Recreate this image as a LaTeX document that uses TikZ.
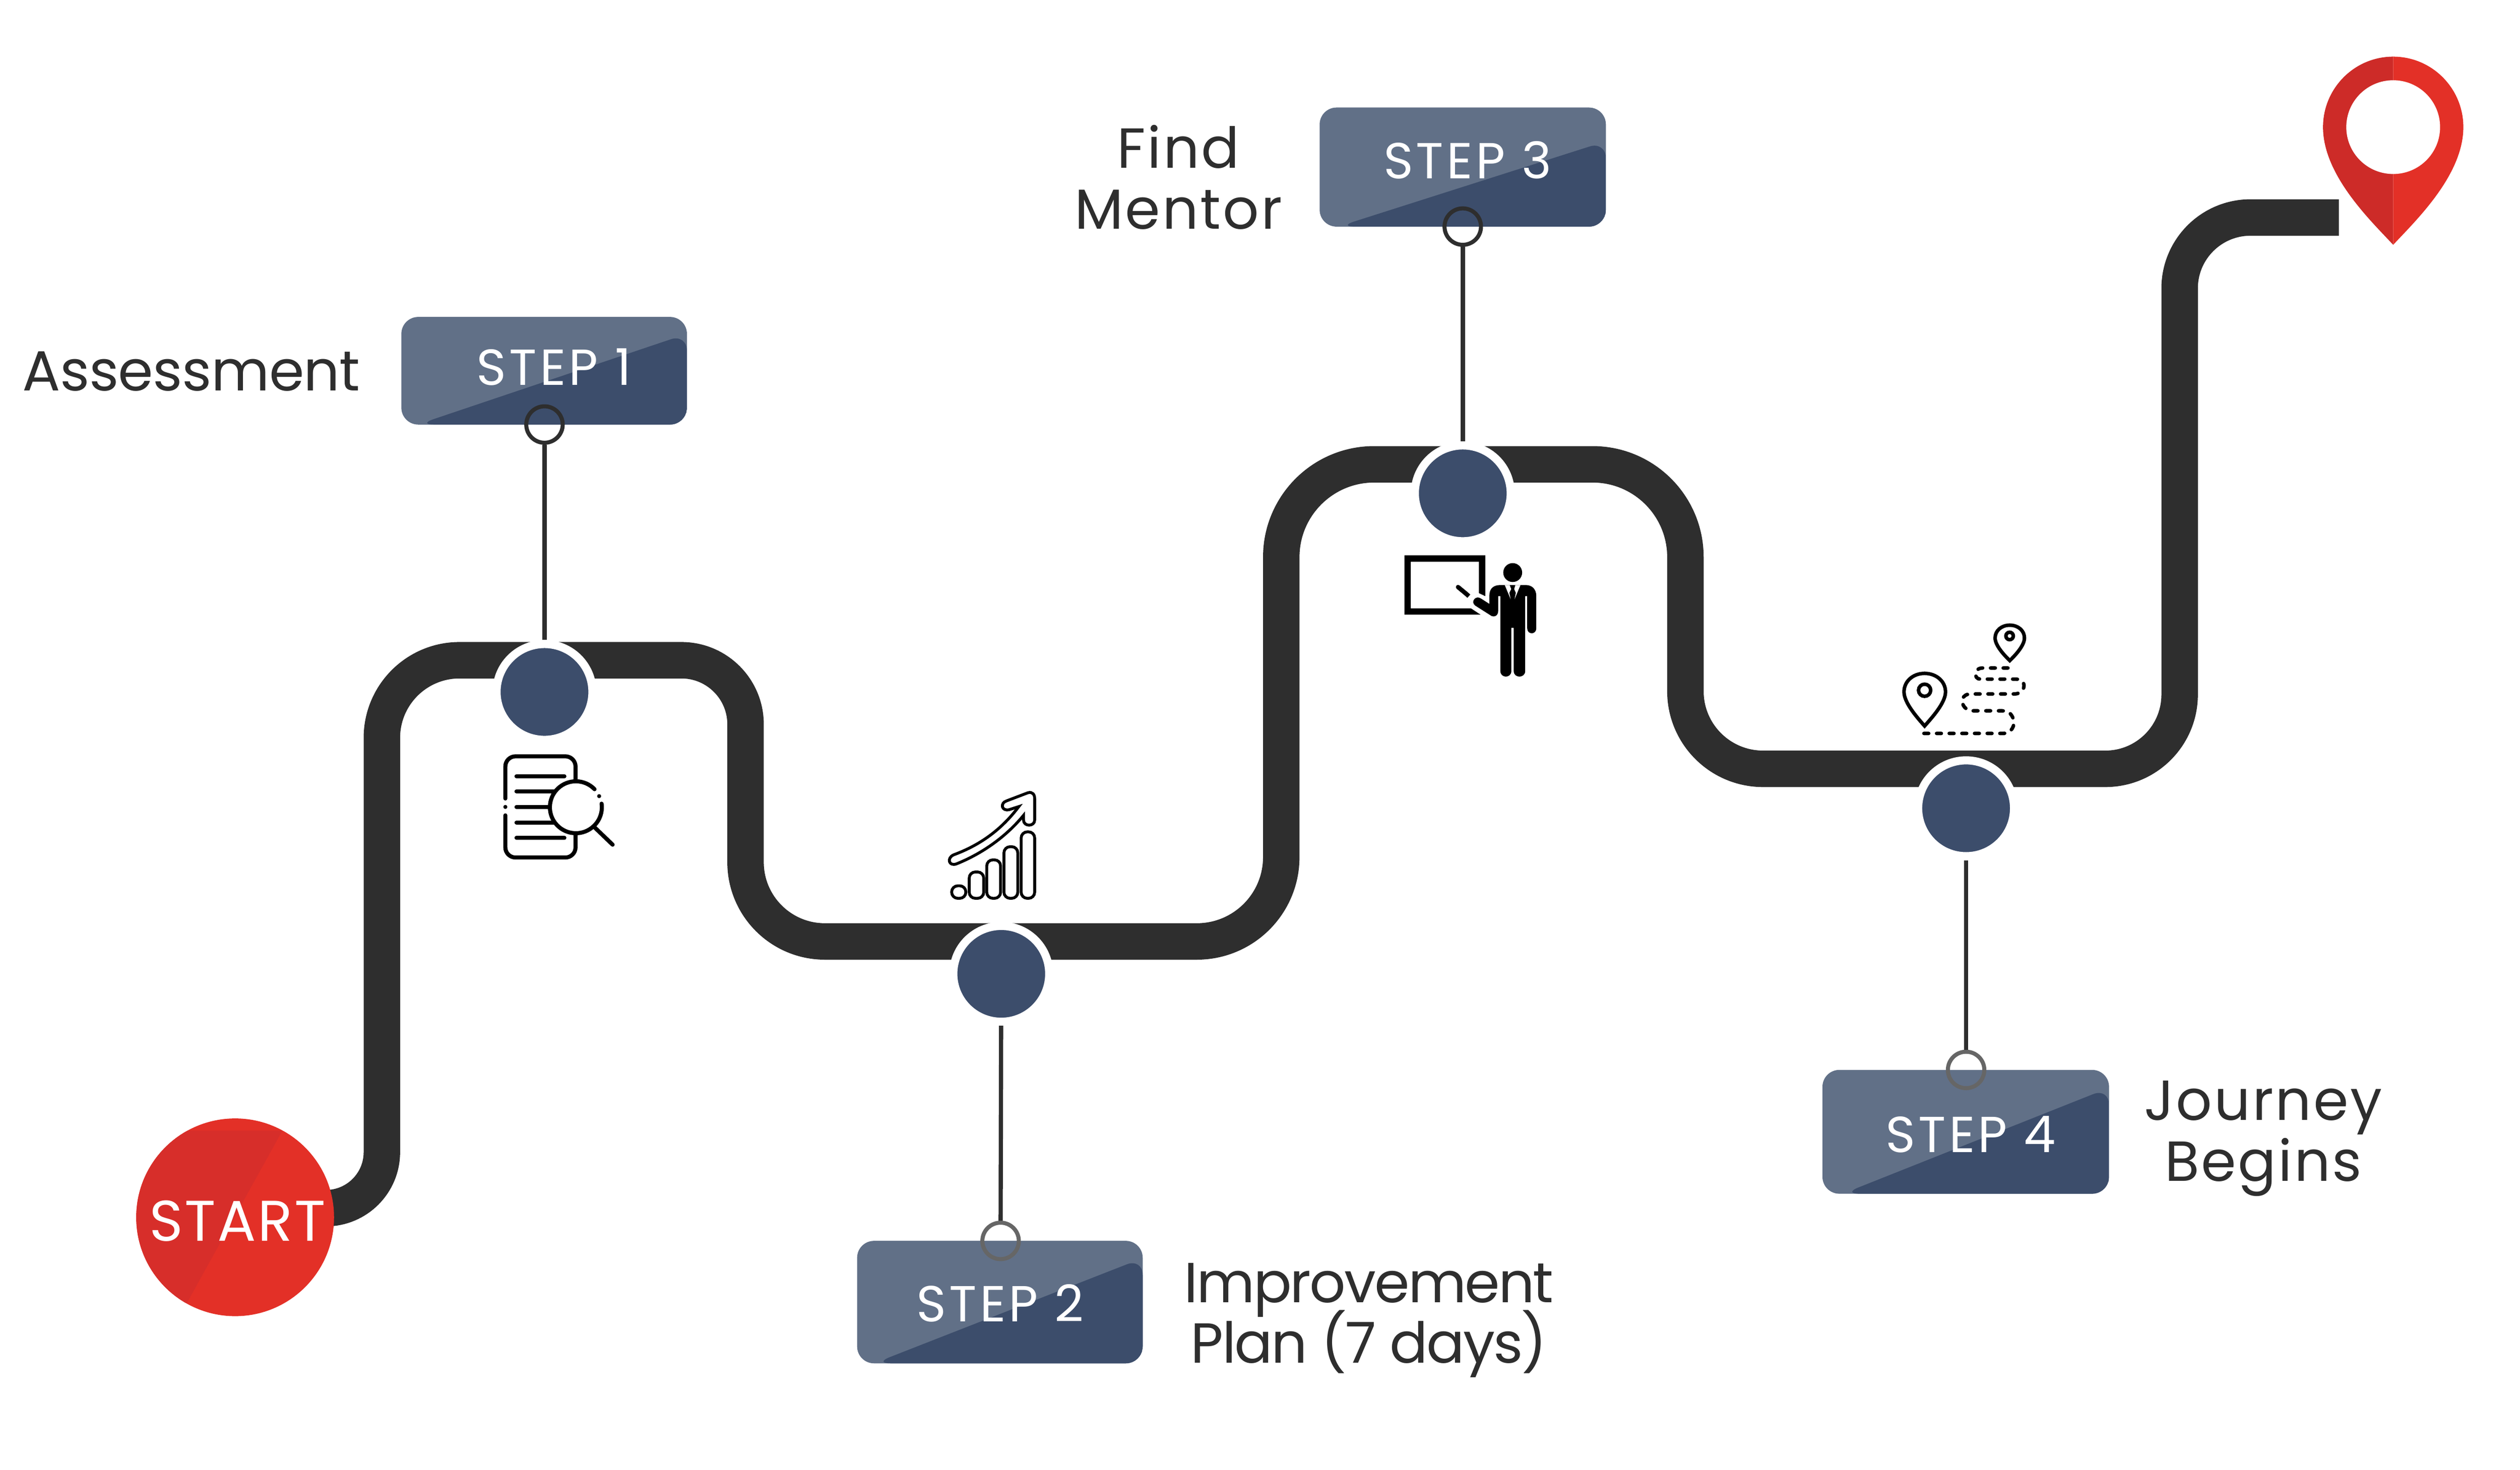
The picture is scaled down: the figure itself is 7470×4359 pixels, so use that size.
\documentclass[tikz,border=0pt]{standalone}
\usepackage{fontspec}
\setmainfont{Poppins}
\usetikzlibrary{calc}
\setlength{\lineskiplimit}{-40pt}
\definecolor{trackgray}{HTML}{2E2E2E}
\definecolor{navy}{HTML}{3C4D6B}
\definecolor{navylight}{HTML}{617087}
\definecolor{redlight}{HTML}{E33027}
\definecolor{reddark}{HTML}{CD2B28}
\definecolor{redmid}{HTML}{D72E2A}
\newfontfamily\notefontA[LetterSpace=-0.6]{Poppins}
\newfontfamily\notefontB[LetterSpace=-2.6]{Poppins}
\newfontfamily\notefontC[LetterSpace=3.5]{Poppins}
\newfontfamily\stepfont[LetterSpace=6]{Poppins}
\newfontfamily\startfont[LetterSpace=3]{Poppins}
\tikzset{
    track/.style={draw=trackgray,line width=1.08cm},
    stopdot/.style={circle,fill=navy,draw=white,line width=.24cm,minimum size=2.84cm,inner sep=0pt},
    hookring/.style={circle,draw=#1,line width=.12cm,minimum size=1.08cm,inner sep=0pt},
    stem/.style={draw=trackgray,line width=.125cm},
    stepbox/.style={rounded corners=.5cm,inner sep=0pt,outer sep=0pt,fill=navylight},
    steptext/.style={text=white,anchor=base,inner sep=0pt,font=\stepfont\fontsize{42.7}{50}\selectfont},
    notetext/.style={text=trackgray,anchor=base,inner sep=0pt,align=center,
        font=#1\fontsize{47.6}{51.2}\selectfont},
    iconline/.style={draw=black,line width=.12cm,line cap=round,line join=round},
    iconthin/.style={draw=black,line width=.085cm},
    mapline/.style={draw=black,line width=.105cm},
}
\begin{document}
\begin{tikzpicture}[x=.01cm,y=-.01cm]
    \useasboundingbox (0,0) rectangle (7470,4359);
    % road
    \draw[track,rounded corners=1.66cm] (880,3583)--(1132,3583)
        [rounded corners=2.3cm]--(1132,1958)
        [rounded corners=1.9cm]--(2210,1958)
        [rounded corners=2.35cm]--(2210,2792)
        [rounded corners=2.5cm]--(3798,2792)
        [rounded corners=2.75cm]--(3798,1377)
        [rounded corners=2.75cm]--(4996,1377)
        [rounded corners=2.3cm]--(4996,2280)
        [rounded corners=2.2cm]--(6461,2280)
        [rounded corners=2.1cm]--(6461,645)--(6933,645);
    % start
    \node[circle,minimum size=5.86cm,inner sep=0pt,fill=redlight,
        path picture={
            \coordinate (c) at (path picture bounding box.center);
            \fill[redmid] ($(c)+(140,-257)$)--($(c)+(-143,254)$)--($(c)+(-300,254)$)--($(c)+(-300,-257)$)--cycle;
        }] (start) at (697,3610) {};
    \node[steptext,font=\startfont\fontsize{48.4}{50}\selectfont] (starttext) at (704,3681) {START};
    % goal pin
    \fill[reddark] (7094,168) .. controls (6979,168) and (6886,262) .. (6886,377)
        .. controls (6886,520) and (7028,655) .. (7094,726)--cycle;
    \fill[redlight] (7094,168) .. controls (7209,168) and (7302,262) .. (7302,377)
        .. controls (7302,520) and (7160,655) .. (7094,726)--cycle;
    \fill[white] (7094,377) circle (139);
    % steps
    \foreach \i/\cx/\cy/\w/\h/\dl/\dr/\tx/\ty/\dx/\dy/\hx/\hy/\rc in {
        1/1613/1099.5/8.46cm/3.19cm/48/269/1642/1142/1614/2052/1614/1259/trackgray,
        2/2964/3861.5/8.46cm/3.63cm/50/312/2965/3919/2968/2888/2966/3680/gray!80!black,
        3/4336/495.5/8.48cm/3.53cm/55/253/4350/530/4336/1463/4336/672/trackgray,
        4/5827/3356.5/8.49cm/3.67cm/60/314/5842/3417/5828/2397/5828/3173/gray!80!black}{
        \node[stepbox,minimum width=\w,minimum height=\h,
            path picture={
                \fill[navy] ($(path picture bounding box.south west)+(\dl,0)$)
                    --($(path picture bounding box.south east)+(0,-\dr)$)
                    --(path picture bounding box.south east)--cycle;
            }] (step\i) at (\cx,\cy) {};
        \node[steptext] (steplabel\i) at (\tx,\ty) {STEP \i};
        \node[stopdot] (stop\i) at (\dx,\dy) {};
        \node[hookring=\rc] (hook\i) at (\hx,\hy) {};
        \draw[stem] (stop\i)--(hook\i);
    }
    % labels
    \node[notetext=\notefontA] (note1) at (567,1159) {Assessment};
    \node[notetext=\notefontB] (note2) at (4058,4042) {Improvement\\Plan (7 days)};
    \node[notetext=\notefontC] (note3) at (3493,679) {Find\\Mentor};
    \node[notetext=\notefontC] (note4) at (6709,3502) {Journey\\Begins};
    % document and lens
    \draw[iconline] (1498,2368)--(1498,2275) [rounded corners=.3cm]--(1498,2243)--(1706,2243)--(1706,2318);
    \draw[iconline] (1706,2470)[rounded corners=.3cm]--(1706,2543)--(1498,2543)--(1498,2418);
    \fill (1498,2393) circle (6);
    \foreach \ly/\lx in {2302/1673,2347/1650,2393/1650,2439/1650,2485/1673}{
        \draw[iconline] (1531,\ly)--(\lx,\ly);
    }
    \fill[white] (1707,2394) circle (77);
    \draw[iconline] (1762.4,2340.5) arc (-44:-368:77);
    \fill (1776,2361) circle (6);
    \draw[iconline] (1764,2455)--(1816,2505);
    % chart
    \foreach \a/\b/\t in {2821/2863/2627,2873/2916/2586,2925/2966/2550,2976/3017/2511,3027/3067/2467}{
        \draw[iconthin,rounded corners=.18cm] (\a,\t) rectangle (\b,2664);
    }
    \draw[iconthin] (2827,2535) .. controls (2900,2508) and (2965,2465) .. (3020,2392)
        --(2992,2401) .. controls (2968,2407) and (2964,2381) .. (2984,2375)
        --(3047,2351) .. controls (3060,2347) and (3067,2356) .. (3067,2368)
        --(3067,2432) .. controls (3067,2452) and (3034,2452) .. (3034,2432)
        --(3034,2418) .. controls (2985,2478) and (2915,2530) .. (2835,2562)
        .. controls (2813,2570) and (2805,2545) .. (2827,2535)--cycle;
    % teacher
    \fill (4163,1647)--(4403,1647)--(4403,1768)--(4384,1759)--(4384,1666)--(4182,1666)
        --(4182,1804)--(4360,1804)--(4389,1823)--(4163,1823)--cycle;
    \draw[line width=.13cm,line cap=round] (4322,1741)--(4345,1760);
    \draw[line width=.13cm] (4345,1760)--(4354,1768);
    \fill (4484,1698) circle (28);
    \fill (4415,1791)--(4415,1765) .. controls (4415,1745) and (4428,1735) .. (4447,1735)
        --(4523,1735) .. controls (4542,1735) and (4554,1748) .. (4554,1768)
        --(4554,1863) .. controls (4554,1883) and (4527,1883) .. (4527,1863)
        --(4527,1768)--(4521,1768)--(4521,1990) .. controls (4521,2012) and (4487,2012) .. (4487,1990)
        --(4487,1862)--(4480,1862)--(4480,1990) .. controls (4480,2012) and (4447.5,2012) .. (4447.5,1990)
        --(4447.5,1768)--(4441,1768)--(4441,1812) .. controls (4441,1828) and (4426,1832) .. (4417,1824)
        --(4373,1796) .. controls (4358,1785) and (4374,1764) .. (4390,1775)--cycle;
    \fill[white] (4460.5,1735)--(4475,1735)--(4479.6,1747)--(4474,1758)--(4478,1777)--cycle;
    \fill[white] (4507,1735)--(4492,1735)--(4488.4,1747)--(4493.4,1758)--(4489.6,1777)--cycle;
    % map
    \draw[mapline] (5705,1997) .. controls (5739,1997) and (5767,2020) .. (5767,2052)
        .. controls (5767,2085) and (5725,2130) .. (5705,2153)
        .. controls (5685,2130) and (5644,2085) .. (5644,2052)
        .. controls (5644,2020) and (5671,1997) .. (5705,1997)--cycle;
    \draw[mapline] (5705,2047) circle (18);
    \draw[mapline] (5957.5,1854) .. controls (5982,1854) and (6001,1870) .. (6001,1892)
        .. controls (6001,1915) and (5972,1945) .. (5957.5,1959)
        .. controls (5943,1945) and (5914,1915) .. (5914,1892)
        .. controls (5914,1870) and (5933,1854) .. (5957.5,1854)--cycle;
    \draw[mapline] (5957,1886) circle (11);
    \draw[mapline,line cap=round,dash pattern=on .14cm off .235cm] (5703,2175)--(5940,2175)
        .. controls (5962,2175) and (5975,2150) .. (5968,2132)
        .. controls (5962,2117) and (5955,2108) .. (5935,2108)
        --(5850,2108) .. controls (5825,2108) and (5815,2090) .. (5817,2075)
        .. controls (5820,2062) and (5830,2058) .. (5845,2058)
        --(5970,2058) .. controls (6000,2058) and (6005,2030) .. (5995,2022)
        .. controls (5990,2016) and (5985,2014) .. (5975,2014)
        --(5870,2014) .. controls (5850,2014) and (5850,1981) .. (5877,1981)--(5956,1981);
\end{tikzpicture}
\end{document}
